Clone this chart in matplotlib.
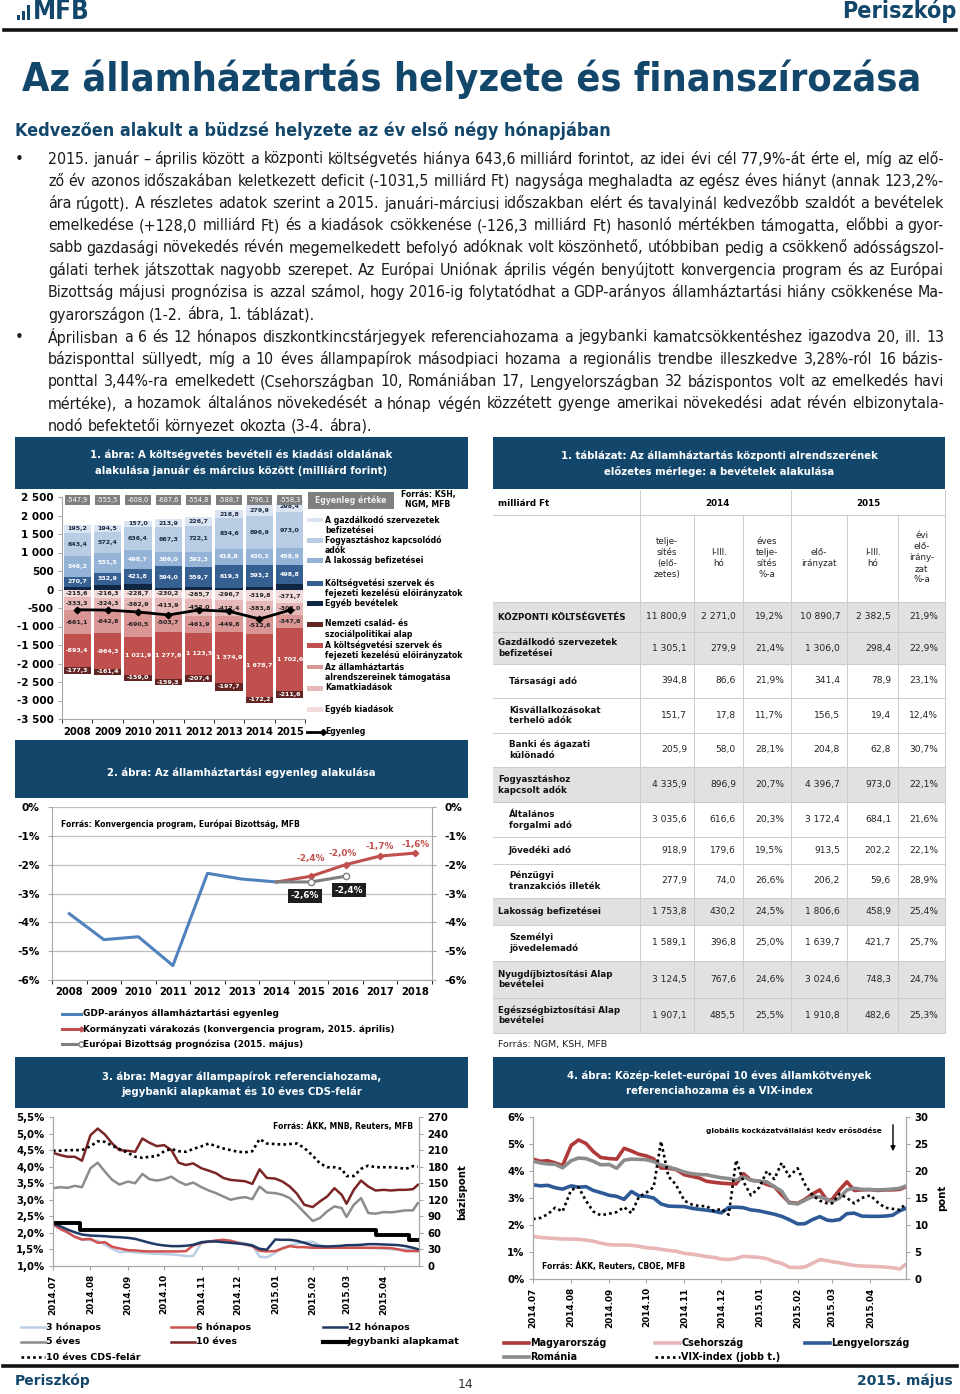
import numpy as np
import pandas as pd
import matplotlib
matplotlib.use("Agg")
import matplotlib.pyplot as plt
from matplotlib.patches import Rectangle
from matplotlib.lines import Line2D

plt.rcParams['font.family'] = 'DejaVu Sans'
plt.rcParams['axes.unicode_minus'] = False

W, H = 960, 1394
TEAL = '#12476b'
COND = dict(family='DejaVu Sans', fontstretch='condensed')

# ---------------- text ----------------
title = 'Az államháztartás helyzete és finanszírozása'
subtitle = 'Kedvezően alakult a büdzsé helyzete az év első négy hónapjában'
para_lines = [
    '2015. január – április között a központi költségvetés hiánya 643,6 milliárd forintot, az idei évi cél 77,9%-át érte el, míg az elő-',
    'ző év azonos időszakában keletkezett deficit (-1031,5 milliárd Ft) nagysága meghaladta az egész éves hiányt (annak 123,2%-',
    'ára rúgott). A részletes adatok szerint a 2015. januári-márciusi időszakban elért és tavalyinál kedvezőbb szaldót a bevételek',
    'emelkedése (+128,0 milliárd Ft) és a kiadások csökkenése (-126,3 milliárd Ft) hasonló mértékben támogatta, előbbi a gyor-',
    'sabb gazdasági növekedés révén megemelkedett befolyó adóknak volt köszönhető, utóbbiban pedig a csökkenő adósságszol-',
    'gálati terhek játszottak nagyobb szerepet. Az Európai Uniónak április végén benyújtott konvergencia program és az Európai',
    'Bizottság májusi prognózisa is azzal számol, hogy 2016-ig folytatódhat a GDP-arányos államháztartási hiány csökkenése Ma-',
    'gyarországon (1-2. ábra, 1. táblázat).',
    'Áprilisban a 6 és 12 hónapos diszkontkincstárjegyek referenciahozama a jegybanki kamatcsökkentéshez igazodva 20, ill. 13',
    'bázisponttal süllyedt, míg a 10 éves állampapírok másodpiaci hozama a regionális trendbe illeszkedve 3,28%-ról 16 bázis-',
    'ponttal 3,44%-ra emelkedett (Csehországban 10, Romániában 17, Lengyelországban 32 bázispontos volt az emelkedés havi',
    'mértéke), a hozamok általános növekedését a hónap végén közzétett gyenge amerikai növekedési adat révén elbizonytala-',
    'nodó befektetői környezet okozta (3-4. ábra).',
]
bullet_rows = [0, 8]
last_rows = [7, 12]

# ---------------- figure 1 data ----------------
years1 = ['2008', '2009', '2010', '2011', '2012', '2013', '2014', '2015']
inc_other = [77.3, 122.1, 141.1, 35.9, 54.9, 51.3, 70.8, 154.1]
inc_budget_org = [270.7, 332.9, 421.8, 594.0, 559.7, 619.3, 593.2, 498.8]
inc_households = [546.2, 531.5, 498.7, 386.0, 392.3, 418.8, 430.2, 458.9]
inc_consumption = [643.4, 572.4, 636.4, 667.3, 722.1, 834.6, 896.9, 973.0]
inc_business = [195.2, 194.5, 157.0, 213.9, 226.7, 218.8, 279.9, 298.4]
exp_other = [-215.6, -216.3, -228.7, -230.2, -265.7, -296.7, -319.8, -371.7]
exp_interest = [-333.3, -324.3, -362.9, -413.9, -452.0, -412.4, -383.8, -308.0]
exp_subsystems = [-661.1, -642.6, -690.5, -503.7, -461.9, -449.8, -512.6, -347.6]
exp_budget_org = [-893.4, -964.3, -1021.9, -1277.6, -1123.5, -1374.9, -1678.7, -1702.6]
exp_family = [-177.3, -161.4, -159.0, -159.3, -207.4, -197.7, -172.2, -211.6]
balance1 = [-547.9, -555.5, -608.0, -687.6, -554.8, -588.7, -796.1, -558.3]

# ---------------- figure 2 data ----------------
years2 = ['2008', '2009', '2010', '2011', '2012', '2013', '2014', '2015', '2016', '2017', '2018']
gdp_years = ['2008', '2009', '2010', '2011', '2012', '2013', '2014']
gdp_bal = [-3.7, -4.6, -4.5, -5.5, -2.3, -2.5, -2.6]
gov_years = ['2014', '2015', '2016', '2017', '2018']
gov_bal = [-2.6, -2.4, -2.0, -1.7, -1.6]
ec_years = ['2014', '2015', '2016']
ec_bal = [-2.6, -2.6, -2.4]

# ---------------- table data ----------------
tbl_rows = ['KÖZPONTI KÖLTSÉGVETÉS', 'Gazdálkodó szervezetek\nbefizetései', 'Társasági adó',
            'Kisvállalkozásokat\nterhelő adók', 'Banki és ágazati\nkülönadó', 'Fogyasztáshoz\nkapcsolt adók',
            'Általános\nforgalmi adó', 'Jövedéki adó', 'Pénzügyi\ntranzakciós illeték', 'Lakosság befizetései',
            'Személyi\njövedelemadó', 'Nyugdíjbiztosítási Alap\nbevételei', 'Egészségbiztosítási Alap\nbevételei']
tbl_level = [0, 0, 1, 1, 1, 0, 1, 1, 1, 0, 1, 0, 0]
tbl_2014_full = [11800.9, 1305.1, 394.8, 151.7, 205.9, 4335.9, 3035.6, 918.9, 277.9, 1753.8, 1589.1, 3124.5, 1907.1]
tbl_2014_q1 = [2271.0, 279.9, 86.6, 17.8, 58.0, 896.9, 616.6, 179.6, 74.0, 430.2, 396.8, 767.6, 485.5]
tbl_2014_pct = [19.2, 21.4, 21.9, 11.7, 28.1, 20.7, 20.3, 19.5, 26.6, 24.5, 25.0, 24.6, 25.5]
tbl_2015_plan = [10890.7, 1306.0, 341.4, 156.5, 204.8, 4396.7, 3172.4, 913.5, 206.2, 1806.6, 1639.7, 3024.6, 1910.8]
tbl_2015_q1 = [2382.5, 298.4, 78.9, 19.4, 62.8, 973.0, 684.1, 202.2, 59.6, 458.9, 421.7, 748.3, 482.6]
tbl_2015_pct = [21.9, 22.9, 23.1, 12.4, 30.7, 22.1, 21.6, 22.1, 28.9, 25.4, 25.7, 24.7, 25.3]
tbl_head = ['telje-\nsítés\n(elő-\nzetes)', 'I-III.\nhó', 'éves\ntelje-\nsítés\n%-a',
            'elő-\nirányzat', 'I-III.\nhó', 'évi\nelő-\nirány-\nzat\n%-a']

# ---------------- figures 3-4 data (sampled on days 1,7,13,19,25 of each month) ----------------
months = [(2014, 7), (2014, 8), (2014, 9), (2014, 10), (2014, 11), (2014, 12),
          (2015, 1), (2015, 2), (2015, 3), (2015, 4)]
sample_days = [f'{y}-{m:02d}-{d:02d}' for y, m in months for d in (1, 7, 13, 19, 25)] + ['2015-04-29']

y3m = [2.24, 2.12, 2.00, 1.90, 1.80, 1.78, 1.76, 1.64, 1.52, 1.42, 1.44, 1.41, 1.40, 1.38, 1.37,
       1.36, 1.35, 1.33, 1.30, 1.30, 1.70, 1.73, 1.76, 1.79, 1.76, 1.72, 1.68, 1.64, 1.28, 1.26,
       1.40, 1.55, 1.62, 1.68, 1.72, 1.73, 1.62, 1.58, 1.57, 1.57, 1.56, 1.56, 1.56, 1.55, 1.54,
       1.52, 1.51, 1.50, 1.50, 1.50, 1.50]
y6m = [2.27, 2.12, 2.02, 1.88, 1.80, 1.82, 1.70, 1.72, 1.58, 1.53, 1.48, 1.47, 1.45, 1.44, 1.44,
       1.44, 1.44, 1.44, 1.45, 1.62, 1.70, 1.74, 1.77, 1.79, 1.76, 1.70, 1.65, 1.60, 1.46, 1.44,
       1.45, 1.53, 1.60, 1.57, 1.57, 1.55, 1.55, 1.55, 1.55, 1.55, 1.55, 1.55, 1.55, 1.55, 1.55,
       1.55, 1.54, 1.50, 1.45, 1.45, 1.45]
y12m = [2.28, 2.20, 2.10, 2.02, 1.95, 1.92, 1.91, 1.90, 1.88, 1.87, 1.85, 1.82, 1.76, 1.70, 1.65,
        1.62, 1.60, 1.60, 1.61, 1.64, 1.72, 1.74, 1.74, 1.72, 1.70, 1.68, 1.66, 1.62, 1.52, 1.49,
        1.80, 1.79, 1.79, 1.76, 1.70, 1.62, 1.60, 1.59, 1.60, 1.61, 1.63, 1.63, 1.64, 1.66, 1.66,
        1.65, 1.64, 1.63, 1.60, 1.55, 1.51]
y5y = [3.35, 3.38, 3.36, 3.42, 3.38, 3.95, 4.12, 3.85, 3.60, 3.46, 3.55, 3.50, 3.78, 3.62, 3.58,
       3.62, 3.70, 3.55, 3.45, 3.52, 3.38, 3.28, 3.20, 3.10, 3.00, 3.05, 3.08, 3.02, 3.40, 3.22,
       3.20, 3.15, 3.05, 2.85, 2.62, 2.36, 2.45, 2.65, 2.80, 2.75, 2.48, 2.85, 3.05, 2.60, 2.58,
       2.63, 2.62, 2.65, 2.68, 2.68, 2.90]
y10y = [4.42, 4.35, 4.30, 4.30, 4.18, 4.95, 5.15, 4.97, 4.70, 4.50, 4.48, 4.45, 4.85, 4.72, 4.62,
        4.65, 4.50, 4.12, 4.05, 4.10, 3.95, 3.88, 3.80, 3.66, 3.60, 3.58, 3.56, 3.48, 3.92, 3.66,
        3.64, 3.55, 3.40, 3.18, 2.85, 2.78, 2.95, 3.10, 3.35, 3.15, 2.88, 3.30, 3.58, 3.40, 3.28,
        3.30, 3.28, 3.30, 3.30, 3.32, 3.45]
cds10 = [209, 209, 210, 210, 210, 217, 226, 225, 218, 212, 205, 198, 196, 198, 199,
         208, 212, 208, 207, 212, 217, 222, 217, 213, 210, 207, 206, 208, 230, 222,
         221, 220, 221, 222, 214, 200, 186, 179, 179, 176, 163, 163, 176, 182, 179,
         179, 179, 178, 176, 181, 180]
rate_days = ['2014-07-01', '2014-07-23', '2015-03-25', '2015-04-22', '2015-04-29']
base_rate = [2.30, 2.10, 1.95, 1.80, 1.80]

hu10 = [4.44, 4.36, 4.38, 4.30, 4.20, 4.95, 5.15, 5.02, 4.72, 4.50, 4.46, 4.44, 4.84, 4.74, 4.62,
        4.56, 4.45, 4.11, 4.10, 4.06, 3.86, 3.80, 3.74, 3.62, 3.58, 3.55, 3.53, 3.52, 3.90, 3.66,
        3.62, 3.50, 3.42, 3.12, 2.84, 2.80, 2.95, 3.15, 3.30, 2.90, 2.95, 3.30, 3.60, 3.28, 3.30,
        3.31, 3.28, 3.30, 3.30, 3.32, 3.40]
cz10 = [1.58, 1.54, 1.52, 1.50, 1.48, 1.48, 1.47, 1.44, 1.40, 1.33, 1.27, 1.26, 1.26, 1.25, 1.21,
        1.16, 1.14, 1.10, 1.06, 1.03, 0.95, 0.92, 0.88, 0.83, 0.80, 0.74, 0.72, 0.76, 0.84, 0.82,
        0.80, 0.75, 0.65, 0.58, 0.44, 0.42, 0.45, 0.58, 0.72, 0.68, 0.64, 0.60, 0.55, 0.50, 0.48,
        0.47, 0.46, 0.44, 0.42, 0.37, 0.52]
pl10 = [3.49, 3.45, 3.47, 3.38, 3.33, 3.45, 3.40, 3.42, 3.28, 3.20, 3.10, 3.06, 2.95, 3.24, 3.08,
        3.06, 3.00, 2.78, 2.70, 2.69, 2.68, 2.62, 2.58, 2.55, 2.51, 2.45, 2.65, 2.66, 2.64, 2.56,
        2.52, 2.46, 2.40, 2.32, 2.20, 2.04, 2.05, 2.20, 2.31, 2.18, 2.16, 2.20, 2.42, 2.44, 2.33,
        2.32, 2.32, 2.33, 2.36, 2.53, 2.60]
ro10 = [4.36, 4.30, 4.26, 4.25, 4.12, 4.38, 4.48, 4.46, 4.36, 4.23, 4.24, 4.10, 4.40, 4.44, 4.43,
        4.42, 4.35, 4.22, 4.15, 4.07, 3.96, 3.90, 3.87, 3.86, 3.80, 3.75, 3.72, 3.66, 3.78, 3.66,
        3.62, 3.60, 3.42, 3.25, 2.82, 2.78, 2.92, 3.05, 3.04, 2.95, 2.86, 3.00, 3.30, 3.36, 3.32,
        3.31, 3.30, 3.31, 3.33, 3.36, 3.43]
vix = [11.1, 11.3, 12.0, 13.2, 12.5, 16.5, 17.0, 14.5, 12.5, 11.8, 12.1, 12.4, 13.3, 12.2, 15.2,
       16.0, 17.0, 25.5, 19.0, 17.5, 14.5, 13.8, 13.5, 13.5, 12.6, 13.0, 11.9, 22.0, 18.0, 15.5,
       17.0, 20.0, 18.5, 21.5, 19.0, 20.5, 17.5, 15.5, 14.5, 14.0, 14.0, 15.8, 15.0, 14.0, 15.0,
       15.5, 14.2, 13.2, 13.0, 12.8, 13.8]


def hu(v, d=1):
    s = f'{abs(v):,.{d}f}'.replace(',', ' ').replace('.', ',')
    return ('-' if v < 0 else '') + s


fig = plt.figure(figsize=(W / 100, H / 100), dpi=100)
R = fig.canvas.get_renderer()


def axes_px(x0, y0, x1, y1):
    return fig.add_axes([x0 / W, 1 - y1 / H, (x1 - x0) / W, (y1 - y0) / H])


def txt(x, y, s, **kw):
    kw.setdefault('va', 'center')
    return fig.text(x / W, 1 - y / H, s, **kw)


def box(x0, y0, x1, y1, color):
    fig.add_artist(Rectangle((x0 / W, 1 - y1 / H), (x1 - x0) / W, (y1 - y0) / H,
                             transform=fig.transFigure, facecolor=color, edgecolor='none'))


def seg(x0, y0, x1, y1, **kw):
    fig.add_artist(Line2D([x0 / W, x1 / W], [1 - y0 / H, 1 - y1 / H], transform=fig.transFigure, **kw))


def wpx(t):
    return t.get_window_extent(renderer=R).width


def fit(t, target):
    t.set_fontsize(t.get_fontsize() * target / wpx(t))


def lines_at(x, y, s, step, **kw):
    for k, part in enumerate(s.split('\n')):
        txt(x, y + k * step, part, **kw)


def panel_head(x0, y0, x1, y1, lines, ys):
    box(x0, y0, x1, y1, TEAL)
    for s, y in zip(lines, ys):
        txt((x0 + x1) / 2, y, s, ha='center', color='white', fontsize=7.3, fontweight='bold')


def style_axis(ax, color='#a6a6a6'):
    for sp in ax.spines.values():
        sp.set_color(color)
    ax.spines['top'].set_visible(False)
    ax.tick_params(colors=color, labelcolor='black')


# ---------------- page header ----------------
for bx0, by0, bx1 in [(17, 15, 20), (22, 11, 25), (27, 5, 30)]:
    box(bx0, by0, bx1, 20, TEAL)
t = txt(33, 12, 'MFB', fontsize=16, fontweight='bold', color=TEAL, **COND)
fit(t, 57)
t = txt(957, 11, 'Periszkóp', ha='right', fontsize=12, fontweight='bold', color=TEAL, **COND)
fit(t, 114)
seg(4, 29.5, 956, 29.5, color='#111111', lw=2.6)
t = txt(22, 79, title, fontsize=30, fontweight='bold', color=TEAL, **COND)
fit(t, 896)
t = txt(15, 131, subtitle, fontsize=14, fontweight='bold', color=TEAL, **COND)
fit(t, 595)

# ---------------- body text (justified) ----------------
body_size = 11.6
min_gap = 3.8
rows = []
for i, line in enumerate(para_lines):
    y = 159 + i * 22.25
    words = line.split(' ')
    rows.append((i, y, [txt(48, y, w, fontsize=body_size, color='#1a1a1a', **COND) for w in words]))
need = max((sum(wpx(t) for t in ts) + min_gap * (len(ts) - 1)) / 896
           for i, y, ts in rows if i not in last_rows)
if need > 1:
    for i, y, ts in rows:
        for t in ts:
            t.set_fontsize(body_size / need)
for i, y, ts in rows:
    ws = [wpx(t) for t in ts]
    gap = 4.5 if i in last_rows else (896 - sum(ws)) / (len(ts) - 1)
    x = 48
    for t, w in zip(ts, ws):
        t.set_x(x / W)
        x += w + gap
    if i in bullet_rows:
        txt(15, y, '•', fontsize=11, color='#1a1a1a')

# ---------------- figure 1 ----------------
panel_head(15, 437, 468, 489, ['1. ábra: A költségvetés bevételi és kiadási oldalának',
                               'alakulása január és március között (milliárd forint)'], [455, 471])
ax1 = axes_px(62, 497, 305, 719)
x1 = np.arange(len(years1))
pos_series = [(inc_other, '#0f2743', None), (inc_budget_org, '#376092', 'white'),
              (inc_households, '#95b3d7', 'white'), (inc_consumption, '#b8cce4', '#1c2b45'),
              (inc_business, '#dbe5f1', '#1c2b45')]
neg_series = [(exp_other, '#f2dcdb', '#222222'), (exp_interest, '#e6b9b8', '#222222'),
              (exp_subsystems, '#da9694', '#222222'), (exp_budget_org, '#c0504d', 'white'),
              (exp_family, '#632523', 'white')]
for group in (pos_series, neg_series):
    base = np.zeros(len(years1))
    for vals, col, tcol in group:
        vals = np.array(vals)
        ax1.bar(x1, vals, bottom=base, width=0.9, color=col, edgecolor='none')
        if tcol:
            for xi, b, v in zip(x1, base, vals):
                s = hu(v)
                if abs(v) >= 1000:
                    s = s.lstrip('-')
                ax1.text(xi, b + v / 2, s, ha='center', va='center', fontsize=4.5,
                         fontweight='bold', color=tcol, zorder=4)
        base = base + vals
ax1.plot(x1, balance1, color='black', lw=2.0, marker='D', ms=3.3, zorder=5)
for xi, v in zip(x1, balance1):
    ax1.text(xi, 2430, hu(v), ha='center', va='center', fontsize=4.8, color='white', zorder=6,
             bbox=dict(boxstyle='square,pad=0.3', fc='#7f7f7f', ec='none'), clip_on=False)
ax1.set_ylim(-3500, 2500)
ax1.set_xlim(-0.5, 7.5)
yt = list(range(-3500, 2501, 500))
ax1.set_yticks(yt)
ax1.set_yticklabels([f'{v:,}'.replace(',', ' ') for v in yt], fontsize=7.5, fontweight='bold')
ax1.set_xticks(x1)
ax1.set_xticklabels(years1, fontsize=7.2, fontweight='bold')
ax1.set_xticks(np.arange(-0.5, 8, 1), minor=True)
ax1.tick_params(axis='x', which='major', length=0, pad=6)
ax1.tick_params(axis='x', which='minor', length=3)
ax1.tick_params(axis='y', length=3, pad=3)
style_axis(ax1)
ax1.spines['right'].set_visible(False)
ax1.patch.set_alpha(0)

box(308, 492, 394, 509, '#7f7f7f')
txt(351, 500, 'Egyenleg értéke', ha='center', fontsize=5.6, fontweight='bold', color='#eeeeee')
txt(428, 495, 'Forrás: KSH,', ha='center', fontsize=5.6, fontweight='bold')
txt(428, 505, 'NGM, MFB', ha='center', fontsize=5.6, fontweight='bold')
leg1 = [('A gazdálkodó szervezetek\nbefizetései', '#dbe5f1', 520),
        ('Fogyasztáshoz kapcsolódó\nadók', '#b8cce4', 540),
        ('A lakosság befizetései', '#95b3d7', 560),
        ('Költségvetési szervek és\nfejezeti kezelésű előirányzatok', '#376092', 583),
        ('Egyéb bevételek', '#0f2743', 603),
        ('Nemzeti család- és\nszociálpolitikai alap', '#632523', 624),
        ('A költségvetési szervek és\nfejezeti kezelésű előirányzatok', '#c0504d', 645),
        ('Az államháztartás\nalrendszereinek támogatása', '#da9694', 667),
        ('Kamatkiadások', '#e6b9b8', 688),
        ('Egyéb kiadások', '#f2dcdb', 709)]
for lab, col, y in leg1:
    box(307, y - 2.5, 323, y + 2.5, col)
    lines_at(325, y, lab, 10.5, fontsize=5.6, fontweight='bold')
seg(307, 732, 323, 732, color='black', lw=2.0, marker='D', ms=3.0, markevery=[1])
txt(325, 732, 'Egyenleg', fontsize=5.6, fontweight='bold')

# ---------------- figure 2 ----------------
panel_head(15, 740, 468, 798, ['2. ábra: Az államháztartási egyenleg alakulása'], [773])
ax2 = axes_px(52, 807, 432, 980)
gx = [years2.index(y) for y in gdp_years]
rx = [years2.index(y) for y in gov_years]
ex = [years2.index(y) for y in ec_years]
ax2.plot(gx, gdp_bal, color='#4f81bd', lw=2.2, zorder=3)
ax2.plot(rx, gov_bal, color='#c0504d', lw=2.2, marker='D', ms=3.2, markevery=list(range(1, len(rx))), zorder=4)
ax2.plot(ex, ec_bal, color='#7f7f7f', lw=2.2, marker='o', ms=4.5, mfc='white', mec='#7f7f7f',
         markevery=list(range(1, len(ex))), zorder=4)
red_off = [(0, 18), (-3, 11), (0, 10), (1, 9)]
for xi, v, (dx, dy) in zip(rx[1:], gov_bal[1:], red_off):
    ax2.annotate(f'{v:.1f}%'.replace('.', ','), (xi, v), xytext=(dx * 0.72, dy * 0.72),
                 textcoords='offset points', ha='center', va='center', fontsize=6.4,
                 fontweight='bold', color='#c0504d')
ec_off = [(-6, -14), (3, -14)]
for xi, v, (dx, dy) in zip(ex[1:], ec_bal[1:], ec_off):
    ax2.annotate(f'{v:.1f}%'.replace('.', ','), (xi, v), xytext=(dx * 0.72, dy * 0.72),
                 textcoords='offset points', ha='center', va='center', fontsize=6.4,
                 fontweight='bold', color='white',
                 bbox=dict(boxstyle='square,pad=0.3', fc='#1e1e1e', ec='none'))
ax2.set_ylim(-6, 0)
ax2.set_xlim(-0.5, 10.5)
ax2.set_yticks(range(-6, 1))
ax2.set_yticklabels([f'{v}%' for v in range(-6, 1)], fontsize=7.6, fontweight='bold')
ax2.tick_params(axis='y', right=True, labelright=True, length=3, pad=6)
for lab in ax2.get_yticklabels(which='both'):
    lab.set_fontweight('bold')
ax2.set_xticks(range(len(years2)))
ax2.set_xticklabels(years2, fontsize=7.2, fontweight='bold')
ax2.set_xticks(np.arange(-0.5, 11, 1), minor=True)
ax2.tick_params(axis='x', which='major', length=0, pad=5)
ax2.tick_params(axis='x', which='minor', length=3)
ax2.grid(axis='y', color='#bfbfbf', lw=0.9)
ax2.set_axisbelow(True)
style_axis(ax2)
ax2.text(0.024, 0.9, 'Forrás: Konvergencia program, Európai Bizottság, MFB', transform=ax2.transAxes,
         fontsize=5.5, fontweight='bold', va='center')
for lab, col, y, mk in [('GDP-arányos államháztartási egyenleg', '#4f81bd', 1014, None),
                        ('Kormányzati várakozás (konvergencia program, 2015. április)', '#c0504d', 1029, 'D'),
                        ('Európai Bizottság prognózisa (2015. május)', '#7f7f7f', 1044, 'o')]:
    if mk:
        seg(62, y, 81, y, color=col, lw=2.2, marker=mk, ms=3.8 if mk == 'o' else 2.5,
            mfc='white' if mk == 'o' else col, markevery=[1])
    else:
        seg(62, y, 81, y, color=col, lw=2.2)
    txt(83, y, lab, fontsize=6.4, fontweight='bold')

# ---------------- table ----------------
panel_head(493, 437, 945, 489, ['1. táblázat: Az államháztartás központi alrendszerének',
                                'előzetes mérlege: a bevételek alakulása'], [456, 472])
cols = [493, 640, 694, 743, 791, 847, 898, 945]
row_edges = [490, 515, 602, 632, 664, 698, 733, 767, 802, 837, 864, 898, 925, 961, 998, 1033]
for i, lvl in enumerate(tbl_level):
    if lvl == 0:
        box(493, row_edges[i + 2], 945, row_edges[i + 3], '#e1e1e1')
for y in row_edges[1:]:
    seg(493, y, 945, y, color='#cccccc', lw=0.7)
for c in cols[1:]:
    seg(c, 490 if c in (640, 791, 945) else 515, c, 1033, color='#cccccc', lw=0.7)
txt(498, 503, 'milliárd Ft', fontsize=6.3, fontweight='bold')
txt(717, 503, '2014', ha='center', fontsize=6.3, fontweight='bold')
txt(868, 503, '2015', ha='center', fontsize=6.3, fontweight='bold')
for k, h in enumerate(tbl_head):
    parts = h.split('\n')
    cx = (cols[k + 1] + cols[k + 2]) / 2
    for j, p in enumerate(parts):
        txt(cx, 558 + (j - (len(parts) - 1) / 2) * 11, p, ha='center', fontsize=6.3, color='#222222')
tcols = [tbl_2014_full, tbl_2014_q1, tbl_2014_pct, tbl_2015_plan, tbl_2015_q1, tbl_2015_pct]
for i, name in enumerate(tbl_rows):
    yc = (row_edges[i + 2] + row_edges[i + 3]) / 2
    parts = name.split('\n')
    xl = 498 if tbl_level[i] == 0 else 509
    for j, p in enumerate(parts):
        txt(xl, yc + (j - (len(parts) - 1) / 2) * 10.7, p, fontsize=6.3, fontweight='bold', color='#111111')
    for k, colvals in enumerate(tcols):
        v = colvals[i]
        s = hu(v) + ('%' if k in (2, 5) else '')
        txt(cols[k + 2] - 7, yc, s, ha='right', fontsize=6.6, color='#222222')
txt(498, 1044, 'Forrás: NGM, KSH, MFB', fontsize=6.8, color='#222222')

# ---------------- figure 3 ----------------
panel_head(15, 1057, 468, 1108, ['3. ábra: Magyar állampapírok referenciahozama,',
                                 'jegybanki alapkamat és 10 éves CDS-felár'], [1077, 1092])
dts = pd.to_datetime(sample_days)
month_starts = pd.to_datetime([f'{y}-{m:02d}-01' for y, m in months])
month_labels = [f'{y}.{m:02d}' for y, m in months]
xlim = (pd.Timestamp('2014-07-01'), pd.Timestamp('2015-04-30'))

ax3 = axes_px(53, 1117, 419, 1266)
ax3.plot(dts, y3m, color='#b9cde5', lw=1.8)
ax3.plot(dts, y6m, color='#d0514e', lw=1.8)
ax3.plot(dts, y12m, color='#1f3864', lw=1.8)
ax3.plot(dts, y5y, color='#8c8c8c', lw=1.8)
ax3.plot(dts, y10y, color='#7b2526', lw=1.8)
ax3.plot(pd.to_datetime(rate_days), base_rate, color='black', lw=2.8, drawstyle='steps-post')
ax3.set_ylim(1.0, 5.5)
ax3.set_xlim(*xlim)
yt3 = np.arange(1.0, 5.51, 0.5)
ax3.set_yticks(yt3)
ax3.set_yticklabels([f'{v:.1f}%'.replace('.', ',') for v in yt3], fontsize=7.3, fontweight='bold')
ax3.set_xticks(month_starts)
ax3.set_xticklabels(month_labels, rotation=90, fontsize=6.4, fontweight='bold')
ax3.tick_params(axis='x', length=3, pad=3)
ax3.tick_params(axis='y', length=3, pad=3)
style_axis(ax3)
ax3b = ax3.twinx()
ax3b.plot(dts, cds10, color='black', lw=1.9, linestyle=(0, (1, 1.2)))
ax3b.set_ylim(0, 270)
ax3b.set_yticks(range(0, 271, 30))
ax3b.set_yticklabels([str(v) for v in range(0, 271, 30)], fontsize=7.3, fontweight='bold')
ax3b.tick_params(axis='y', length=3, pad=3)
style_axis(ax3b)
ax3b.set_xlim(*xlim)
txt(462, 1192, 'bázispont', ha='center', rotation=90, fontsize=7.3, fontweight='bold')
txt(413, 1126, 'Forrás: ÁKK, MNB, Reuters, MFB', ha='right', fontsize=5.5, fontweight='bold')
leg3 = [('3 hónapos', '#b9cde5', 1.8, '-', 21, 1327), ('6 hónapos', '#d0514e', 1.8, '-', 171, 1327),
        ('12 hónapos', '#1f3864', 1.8, '-', 323, 1327), ('5 éves', '#8c8c8c', 1.8, '-', 21, 1342),
        ('10 éves', '#7b2526', 1.8, '-', 171, 1342), ('Jegybanki alapkamat', 'black', 3.0, '-', 323, 1342),
        ('10 éves CDS-felár', 'black', 1.9, (0, (1, 1.2)), 21, 1357)]
for lab, col, lw, ls, x0, y in leg3:
    seg(x0, y, x0 + 24, y, color=col, lw=lw, linestyle=ls)
    txt(x0 + 25, y, lab, fontsize=6.8, fontweight='bold')

# ---------------- figure 4 ----------------
panel_head(493, 1057, 945, 1108, ['4. ábra: Közép-kelet-európai 10 éves államkötvények',
                                  'referenciahozama és a VIX-index'], [1076, 1091])
ax4 = axes_px(533, 1117, 906, 1279)
ax4.plot(dts, hu10, color='#b03a3a', lw=2.6)
ax4.plot(dts, cz10, color='#e8b6b5', lw=2.6)
ax4.plot(dts, pl10, color='#2d5a96', lw=2.6)
ax4.plot(dts, ro10, color='#8c8c8c', lw=2.6)
ax4.set_ylim(0, 6)
ax4.set_xlim(*xlim)
ax4.set_yticks(range(0, 7))
ax4.set_yticklabels([f'{v}%' for v in range(0, 7)], fontsize=7.3, fontweight='bold')
ax4.set_xticks(month_starts)
ax4.set_xticklabels(month_labels, rotation=90, fontsize=6.4, fontweight='bold')
ax4.tick_params(axis='x', length=3, pad=3)
ax4.tick_params(axis='y', length=3, pad=3)
style_axis(ax4)
ax4b = ax4.twinx()
ax4b.plot(dts, vix, color='black', lw=1.9, linestyle=(0, (1, 1.2)))
ax4b.set_ylim(0, 30)
ax4b.set_yticks(range(0, 31, 5))
ax4b.set_yticklabels([str(v) for v in range(0, 31, 5)], fontsize=7.3, fontweight='bold')
ax4b.tick_params(axis='y', length=3, pad=3)
style_axis(ax4b)
ax4b.set_xlim(*xlim)
txt(942, 1198, 'pont', ha='center', rotation=90, fontsize=7.3, fontweight='bold')
txt(882, 1131, 'globális kockázatvállalási kedv erősödése', ha='right', fontsize=5.3, fontweight='bold')
ax4.annotate('', xy=(893 / W, 1 - 1154 / H), xytext=(893 / W, 1 - 1122 / H),
             xycoords='figure fraction', textcoords='figure fraction',
             arrowprops=dict(arrowstyle='-|>', color='black', lw=1.0, mutation_scale=7))
txt(542, 1266, 'Forrás: ÁKK, Reuters, CBOE, MFB', fontsize=5.5, fontweight='bold')
leg4 = [('Magyarország', '#b03a3a', '-', 504, 1343), ('Csehország', '#e8b6b5', '-', 655, 1343),
        ('Lengyelország', '#2d5a96', '-', 805, 1343), ('Románia', '#8c8c8c', '-', 504, 1357),
        ('VIX-index (jobb t.)', 'black', (0, (1, 1.2)), 655, 1357)]
for lab, col, ls, x0, y in leg4:
    seg(x0, y, x0 + 25, y, color=col, lw=2.6 if ls == '-' else 1.9, linestyle=ls)
    txt(x0 + 26, y, lab, fontsize=6.9, fontweight='bold')

# ---------------- footer ----------------
seg(3, 1366, 957, 1366, color='#111111', lw=2.6)
txt(15, 1381, 'Periszkóp', fontsize=10, fontweight='bold', color=TEAL)
txt(953, 1381, '2015. május', ha='right', fontsize=10, fontweight='bold', color=TEAL)
txt(466, 1385, '14', ha='center', fontsize=9, color='#333333')

fig.savefig('out.png', dpi=100)
